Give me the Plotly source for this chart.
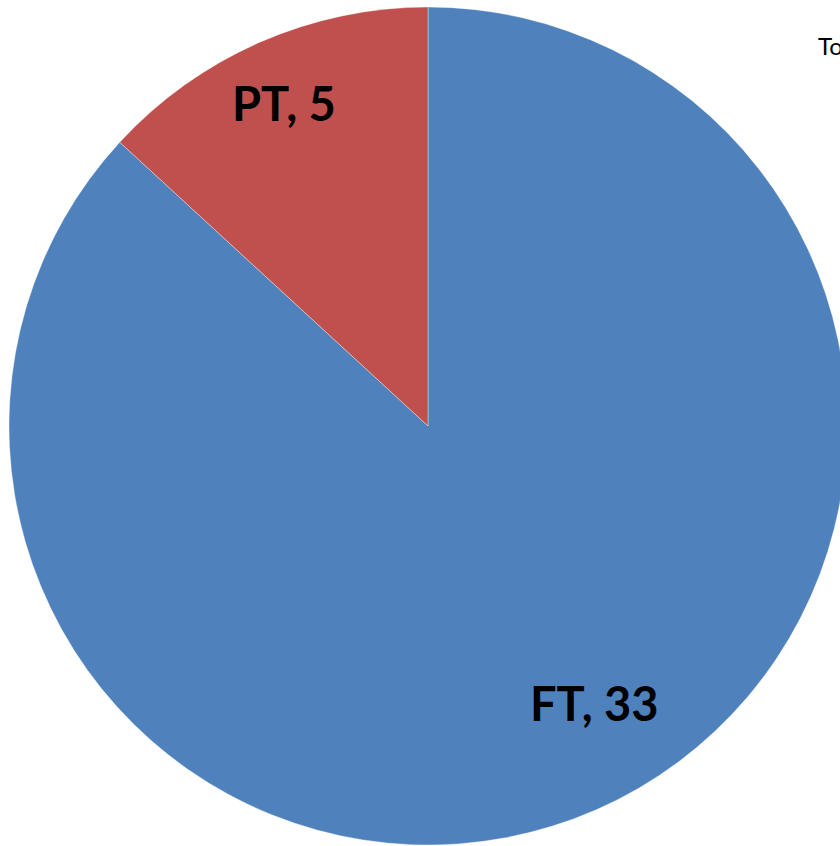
import plotly.graph_objects as go

labels = ["FT", "PT"]
values = [33, 5]
colors = ["#4F81BD", "#C0504D"]
label_pos = [(594, 703), (284, 103)]  # pixel centres of slice labels
corner_text = "Total"

W, H = 856, 846
cx, cy, r = 428, 426, 419

fig = go.Figure(go.Pie(
    labels=labels, values=values, sort=False, direction="clockwise", rotation=0,
    marker=dict(colors=colors, line=dict(color="rgba(255,255,255,0.6)", width=0.6)),
    textinfo="none", hoverinfo="label+value", showlegend=False,
    domain=dict(x=[(cx - r) / W, (cx + r) / W], y=[(H - cy - r) / H, (H - cy + r) / H]),
))

annotations = []
for lab, val, (px, py) in zip(labels, values, label_pos):
    annotations.append(dict(
        text=f"<b>{lab}, {val}</b>", x=px / W, y=1 - py / H, xref="paper", yref="paper",
        showarrow=False, xanchor="center", yanchor="middle",
        font=dict(family="Lato, Open Sans, sans-serif", size=47, color="black"),
    ))
annotations.append(dict(
    text=corner_text, x=816 / W, y=1 - 45 / H, xref="paper", yref="paper",
    showarrow=False, xanchor="left", yanchor="middle",
    font=dict(family="Lato, Open Sans, sans-serif", size=24, color="black"),
))

fig.update_layout(
    width=W, height=H, margin=dict(l=0, r=0, t=0, b=0),
    paper_bgcolor="white", plot_bgcolor="white", annotations=annotations,
)

fig.write_html("out.html", config={"displayModeBar": False},
               post_script="document.body.style.margin='0';document.body.style.overflow='hidden';document.documentElement.style.overflow='hidden';")
